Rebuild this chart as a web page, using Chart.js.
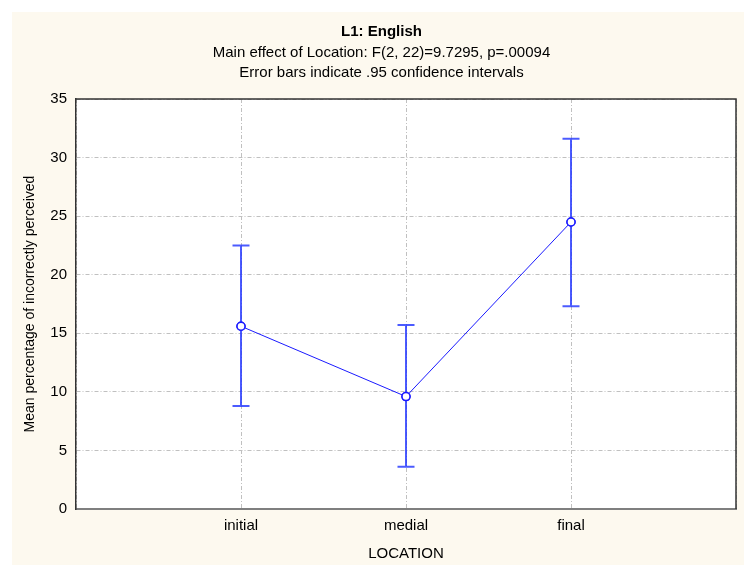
<!DOCTYPE html>
<html>
<head>
<meta charset="utf-8">
<script src="https://cdn.jsdelivr.net/npm/chart.js@4/dist/chart.umd.min.js"></script>
<style>
  body { margin: 0; background: #fff; }
  canvas { display: block; }
</style>
</head>
<body>
<canvas id="chart" width="744" height="565"></canvas>
<script>
// data
const categories = ["initial", "medial", "final"];
const means = [15.6, 9.6, 24.5];
const upper = [22.5, 15.7, 31.6];
const lower = [8.8, 3.6, 17.3];
const yTicks = [0, 5, 10, 15, 20, 25, 30, 35];

const FONT = "'Liberation Sans', Arial, sans-serif";

// cream frame + white plot area + top/right border
const frame = {
  id: "frame",
  beforeDraw(chart) {
    const { ctx, chartArea: a, width, height } = chart;
    ctx.save();
    ctx.fillStyle = "#ffffff";
    ctx.fillRect(0, 0, width, height);
    ctx.fillStyle = "#fdf9ef";
    ctx.fillRect(12, 12, width - 12, height - 12);
    ctx.fillStyle = "#ffffff";
    ctx.fillRect(a.left, a.top, a.right - a.left, a.bottom - a.top);
    ctx.restore();
  },
  afterDraw(chart) {
    const { ctx, chartArea: a } = chart;
    ctx.save();
    ctx.strokeStyle = "#333333";
    ctx.lineWidth = 1.5;
    ctx.beginPath();
    ctx.moveTo(a.left, a.top);
    ctx.lineTo(a.right, a.top);
    ctx.lineTo(a.right, a.bottom);
    ctx.stroke();
    ctx.restore();
  },
};

// error bars drawn through the scales
const errorBars = {
  id: "errorBars",
  afterDatasetsDraw(chart) {
    const { ctx, scales } = chart;
    const cap = 8.5;
    ctx.save();
    ctx.strokeStyle = "rgba(30,50,255,0.8)";
    ctx.lineWidth = 2;
    categories.forEach((c, i) => {
      const x = scales.x.getPixelForValue(i + 1);
      const yHi = scales.y.getPixelForValue(upper[i]);
      const yLo = scales.y.getPixelForValue(lower[i]);
      ctx.beginPath();
      ctx.moveTo(x, yHi);
      ctx.lineTo(x, yLo);
      ctx.moveTo(x - cap, yHi);
      ctx.lineTo(x + cap, yHi);
      ctx.moveTo(x - cap, yLo);
      ctx.lineTo(x + cap, yLo);
      ctx.stroke();
    });
    ctx.restore();
    // points back on top of the bars
    const meta = chart.getDatasetMeta(0);
    meta.data.forEach((pt) => pt.draw(ctx, chart.chartArea));
  },
};

const gridStyle = {
  color: "#c0c0c0",
  lineWidth: 1,
  drawTicks: false,
};

new Chart(document.getElementById("chart"), {
  type: "line",
  data: {
    datasets: [
      {
        label: "Mean",
        data: means.map((m, i) => ({ x: i + 1, y: m })),
        borderColor: "#1a1aff",
        borderWidth: 1,
        pointRadius: 4,
        pointBorderWidth: 1.5,
        pointBackgroundColor: "#ffffff",
        pointBorderColor: "#1a1aff",
        tension: 0,
      },
    ],
  },
  options: {
    responsive: false,
    animation: false,
    layout: { padding: { left: 22, right: 3, top: 0, bottom: 0 } },
    plugins: {
      legend: { display: false },
      tooltip: { enabled: false },
      title: {
        display: true,
        text: "L1: English",
        color: "#000",
        font: { family: FONT, size: 15, weight: "bold", lineHeight: "18px" },
        padding: { top: 23, bottom: 0 },
      },
      subtitle: {
        display: true,
        text: [
          "Main effect of Location: F(2, 22)=9.7295, p=.00094",
          "Error bars indicate .95 confidence intervals",
        ],
        color: "#000",
        font: { family: FONT, size: 15, lineHeight: "20px" },
        padding: { top: 2, bottom: 16 },
      },
    },
    scales: {
      x: {
        type: "linear",
        min: 0,
        max: 4,
        afterFit: (s) => { s.height = 56; },
        afterBuildTicks: (s) => { s.ticks = [0, 1, 2, 3, 4].map((v) => ({ value: v })); },
        ticks: {
          padding: 8,
          color: "#000",
          font: { family: FONT, size: 15, lineHeight: "18px" },
          callback: (v) => categories[v - 1] || "",
        },
        grid: gridStyle,
        border: { color: "#7f7f7f", width: 2, dash: [4, 2, 1, 2] },
        title: {
          display: true,
          text: "LOCATION",
          color: "#000",
          font: { family: FONT, size: 15, lineHeight: "18px" },
          padding: { top: 0, bottom: 2 },
        },
      },
      y: {
        min: 0,
        max: 35,
        afterFit: (s) => { s.width = 54; },
        afterBuildTicks: (s) => { s.ticks = yTicks.map((v) => ({ value: v })); },
        ticks: {
          padding: 9,
          color: "#000",
          font: { family: FONT, size: 15 },
        },
        grid: gridStyle,
        border: { color: "#333333", width: 1.5, dash: [4, 2, 1, 2] },
        title: {
          display: true,
          text: "Mean percentage of incorrectly perceived",
          color: "#000",
          font: { family: FONT, size: 14, lineHeight: "17px" },
          padding: { top: 0, bottom: 0 },
        },
      },
    },
  },
  plugins: [frame, errorBars],
});
</script>
</body>
</html>
